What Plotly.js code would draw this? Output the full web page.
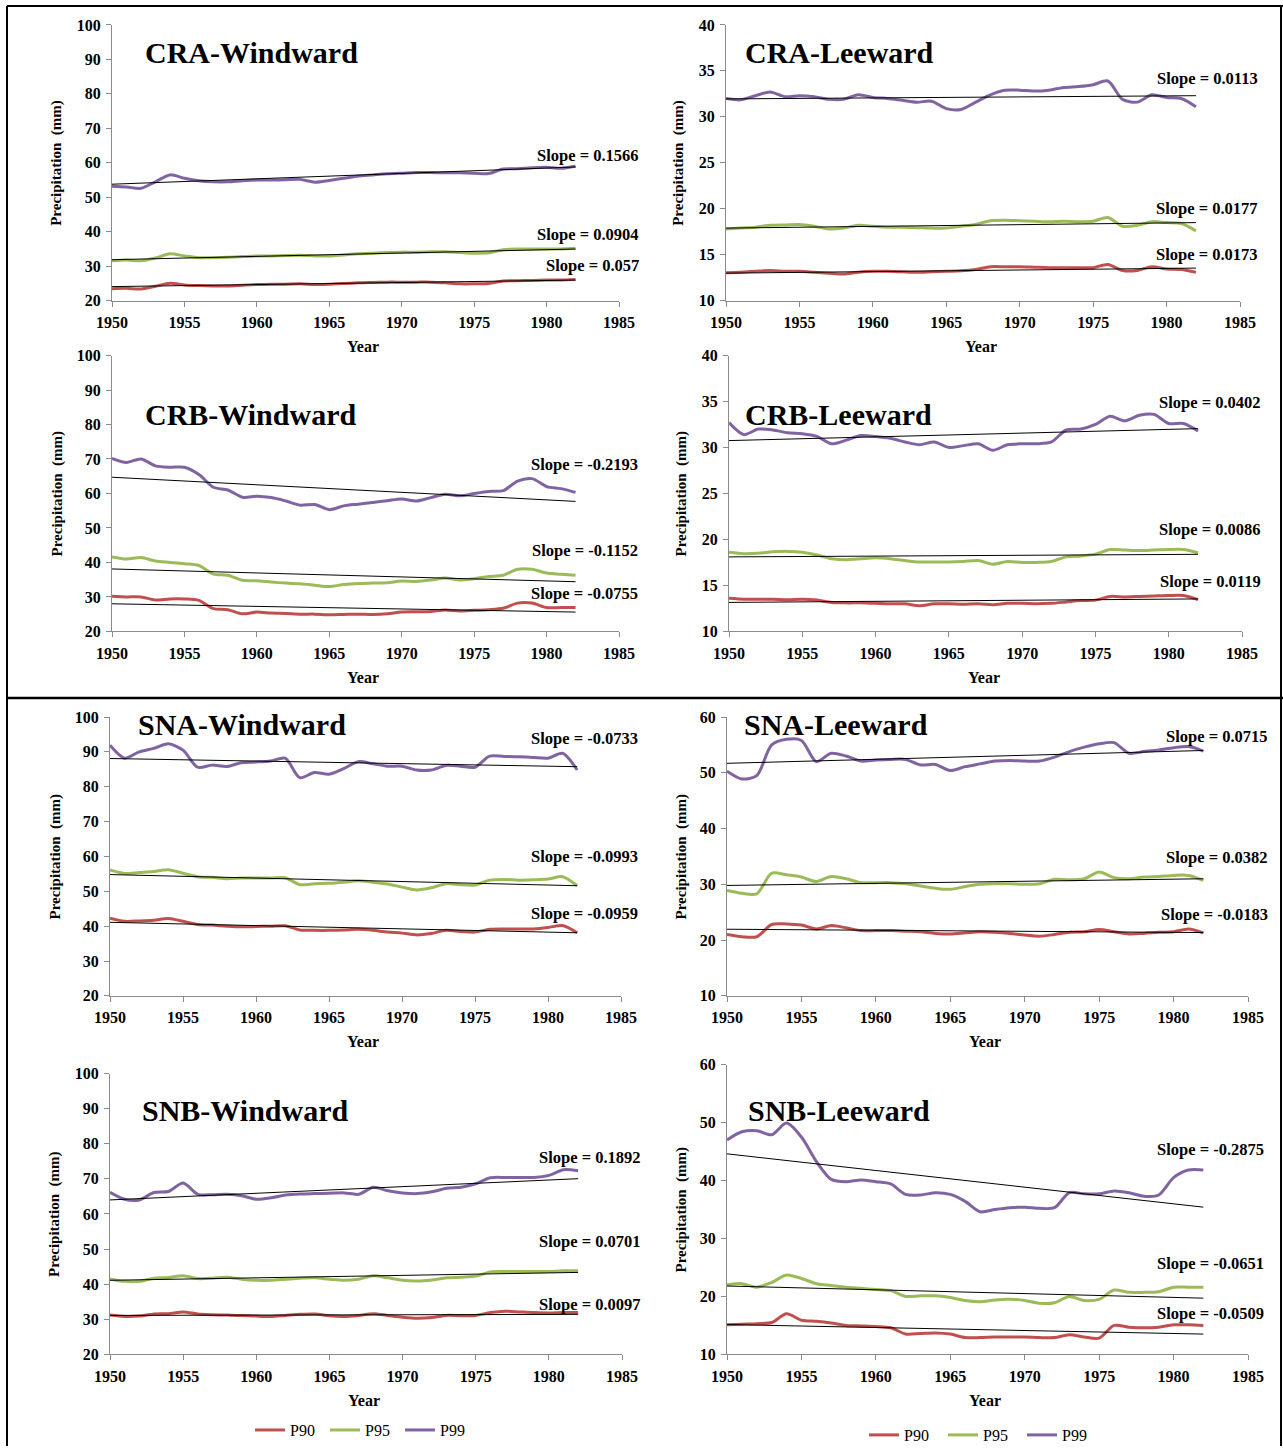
<!DOCTYPE html>
<html>
<head>
<meta charset="utf-8">
<script src="https://cdn.plot.ly/plotly-3.0.1.min.js"></script>
<style>html,body{margin:0;padding:0;background:#fff;}#chart{width:1283px;height:1452px;}</style>
</head>
<body>
<div id="chart"></div>
<script>
// ---------------- DATA ----------------
const years = [1950,1951,1952,1953,1954,1955,1956,1957,1958,1959,1960,1961,1962,1963,1964,1965,1966,1967,1968,1969,1970,1971,1972,1973,1974,1975,1976,1977,1978,1979,1980,1981,1982];
const seriesNames = ["P90", "P95", "P99"];
const panelTitles = ["CRA-Windward","CRA-Leeward","CRB-Windward","CRB-Leeward","SNA-Windward","SNA-Leeward","SNB-Windward","SNB-Leeward"];

// CRA-Windward
const craW_P90 = [23.5,23.6,23.4,24.2,25.1,24.6,24.4,24.3,24.3,24.5,24.7,24.8,24.8,24.9,24.7,24.8,25.0,25.2,25.3,25.4,25.4,25.4,25.4,25.2,24.9,24.9,25.0,25.7,25.8,25.9,26.0,26.0,26.2];
const craW_P95 = [31.6,31.8,31.6,32.4,33.6,33.0,32.5,32.5,32.6,32.8,33.0,33.0,33.1,33.2,33.0,33.0,33.3,33.6,33.8,34.0,34.1,34.1,34.2,34.2,34.0,33.8,33.9,34.8,35.0,35.0,35.0,35.0,35.2];
const craW_P99 = [53.2,53.0,52.6,54.5,56.5,55.5,54.8,54.5,54.5,54.8,55.0,55.0,55.1,55.2,54.4,54.9,55.5,56.2,56.5,56.8,57.0,57.2,57.2,57.1,57.1,57.0,56.9,58.2,58.3,58.6,58.7,58.4,59.0];
// CRA-Leeward
const craL_P90 = [13.05,13.1,13.2,13.3,13.2,13.2,13.1,13.0,12.9,13.1,13.2,13.2,13.15,13.1,13.15,13.2,13.25,13.4,13.7,13.7,13.7,13.65,13.6,13.6,13.6,13.6,13.95,13.3,13.3,13.7,13.45,13.4,13.1];
const craL_P95 = [17.8,17.9,18.0,18.2,18.25,18.3,18.1,17.8,17.9,18.2,18.1,18.0,18.0,17.95,17.9,17.9,18.1,18.3,18.7,18.75,18.7,18.65,18.6,18.65,18.6,18.65,19.05,18.1,18.2,18.6,18.5,18.4,17.6];
const craL_P99 = [32.0,31.85,32.3,32.7,32.2,32.3,32.2,31.9,31.9,32.4,32.1,32.0,31.8,31.6,31.7,30.9,30.8,31.6,32.4,32.9,32.9,32.8,32.9,33.2,33.3,33.5,33.9,31.9,31.6,32.4,32.1,32.0,31.1];
// CRB-Windward
const crbW_P90 = [30.2,30.0,30.0,29.1,29.4,29.4,29.0,26.6,26.3,25.1,25.6,25.3,25.2,25.0,25.0,24.8,24.9,25.0,24.9,25.1,25.6,25.7,25.8,26.2,25.9,26.1,26.3,26.7,28.2,28.2,26.9,26.9,26.9];
const crbW_P95 = [41.6,41.0,41.4,40.4,40.0,39.6,39.1,36.6,36.3,34.8,34.7,34.3,34.0,33.8,33.4,33.0,33.6,33.9,34.0,34.1,34.6,34.5,34.9,35.5,34.9,35.3,35.9,36.3,38.0,38.0,36.9,36.6,36.3];
const crbW_P99 = [70.2,69.0,70.0,68.0,67.6,67.6,65.5,61.8,61.0,58.9,59.2,58.8,57.8,56.6,56.8,55.3,56.4,56.9,57.4,57.9,58.4,57.8,58.8,59.8,59.3,60.0,60.6,60.8,63.6,64.3,62.0,61.4,60.3];
// CRB-Leeward
const crbL_P90 = [13.6,13.5,13.5,13.5,13.45,13.5,13.4,13.15,13.1,13.1,13.05,13.0,13.0,12.8,13.0,13.0,12.95,13.0,12.9,13.05,13.05,13.0,13.05,13.2,13.35,13.4,13.8,13.75,13.8,13.85,13.9,13.9,13.45];
const crbL_P95 = [18.6,18.45,18.5,18.65,18.7,18.6,18.3,17.9,17.8,17.9,18.0,17.9,17.7,17.55,17.55,17.55,17.6,17.7,17.3,17.6,17.5,17.5,17.6,18.1,18.2,18.4,18.9,18.85,18.8,18.85,18.9,18.9,18.55];
const crbL_P99 = [32.7,31.4,32.0,31.9,31.6,31.5,31.2,30.4,30.8,31.3,31.2,31.0,30.6,30.3,30.6,30.0,30.2,30.4,29.7,30.3,30.4,30.4,30.6,31.9,32.0,32.5,33.4,32.9,33.5,33.6,32.6,32.6,31.8];
// SNA-Windward
const snaW_P90 = [42.3,41.4,41.5,41.7,42.2,41.4,40.5,40.3,40.0,39.8,39.9,40.0,40.1,38.9,38.8,38.8,38.9,39.1,38.8,38.3,38.0,37.5,37.9,38.8,38.5,38.3,39.1,39.2,39.2,39.2,39.6,40.2,38.1];
const snaW_P95 = [56.1,55.1,55.4,55.7,56.2,55.2,54.2,54.0,53.6,53.8,53.8,53.8,53.9,51.9,52.2,52.3,52.6,53.0,52.6,52.1,51.2,50.4,51.0,52.2,51.9,51.8,53.2,53.4,53.2,53.3,53.5,54.2,51.6];
const snaW_P99 = [91.9,88.2,90.0,91.0,92.3,90.5,85.6,86.2,85.8,86.9,87.1,87.4,88.2,82.6,84.1,83.6,85.2,87.2,86.6,85.9,85.9,84.8,84.8,86.1,85.9,85.6,88.8,88.7,88.6,88.4,88.2,89.6,84.8];
// SNA-Leeward
const snaL_P90 = [21.0,20.6,20.6,22.8,22.9,22.7,22.0,22.6,22.2,21.7,21.7,21.7,21.6,21.5,21.2,21.1,21.3,21.5,21.4,21.2,20.9,20.7,21.0,21.4,21.5,21.9,21.5,21.1,21.2,21.4,21.5,22.0,21.3];
const snaL_P95 = [28.9,28.4,28.3,32.0,31.7,31.3,30.5,31.4,31.0,30.3,30.3,30.3,30.1,29.7,29.3,29.1,29.6,30.0,30.1,30.1,30.0,30.1,30.9,30.8,31.0,32.2,31.2,31.0,31.3,31.4,31.6,31.6,30.7];
const snaL_P99 = [50.3,48.9,49.5,55.0,56.0,55.8,52.0,53.5,53.0,52.1,52.3,52.4,52.4,51.4,51.5,50.4,51.1,51.6,52.1,52.2,52.1,52.1,52.8,53.8,54.6,55.2,55.4,53.5,53.8,54.1,54.5,54.7,53.9];
// SNB-Windward
const snbW_P90 = [31.2,30.8,30.9,31.5,31.6,32.1,31.5,31.3,31.2,31.1,30.9,30.8,31.1,31.4,31.5,31.0,30.8,31.1,31.6,31.1,30.6,30.3,30.5,31.1,31.0,31.1,31.9,32.3,32.1,31.9,31.8,31.9,31.9];
const snbW_P95 = [41.5,40.8,40.8,41.7,41.9,42.4,41.6,41.7,42.0,41.4,41.1,41.1,41.4,41.7,41.8,41.4,41.1,41.4,42.4,41.8,41.1,40.9,41.2,41.8,42.0,42.3,43.5,43.6,43.6,43.6,43.6,43.8,43.8];
const snbW_P99 = [66.2,64.2,64.0,66.1,66.4,68.8,65.6,65.5,65.6,65.2,64.2,64.6,65.4,65.7,65.8,65.9,66.0,65.6,67.6,66.6,66.0,65.8,66.3,67.3,67.6,68.6,70.3,70.4,70.4,70.4,71.0,72.6,72.3];
// SNB-Leeward
const snbL_P90 = [15.1,15.2,15.3,15.5,17.0,15.9,15.7,15.4,15.0,14.9,14.8,14.6,13.5,13.6,13.7,13.5,12.9,12.9,13.0,13.0,13.0,12.9,12.9,13.4,13.0,12.8,15.0,14.7,14.6,14.7,15.1,15.1,15.0];
const snbL_P95 = [22.0,22.2,21.6,22.4,23.7,23.1,22.2,21.9,21.6,21.4,21.2,21.0,20.0,20.1,20.1,19.8,19.3,19.1,19.4,19.5,19.3,18.8,18.9,20.0,19.3,19.5,21.1,20.7,20.7,20.8,21.6,21.6,21.6];
const snbL_P99 = [47.0,48.4,48.6,47.9,49.9,47.5,43.3,40.2,39.8,40.1,39.8,39.4,37.6,37.5,37.9,37.6,36.4,34.6,35.0,35.3,35.4,35.2,35.3,37.9,37.7,37.7,38.2,37.9,37.3,37.5,40.5,41.8,41.8];

// Linear trend endpoints [value at 1950, value at 1982] for P90, P95, P99
const trendYears = [1950, 1982];
const craW_trend = [[24.1, 26.0], [31.9, 35.0], [53.8, 58.8]];
const craL_trend = [[13.0, 13.55], [17.9, 18.5], [31.95, 32.3]];
const crbW_trend = [[28.0, 25.6], [38.1, 34.4], [64.7, 57.7]];
const crbL_trend = [[13.15, 13.53], [18.1, 18.38], [30.75, 32.05]];
const snaW_trend = [[41.1, 38.1], [54.8, 51.6], [88.1, 85.75]];
const snaL_trend = [[21.95, 21.35], [29.8, 31.0], [51.7, 54.0]];
const snbW_trend = [[31.1, 31.4], [41.1, 43.35], [64.0, 70.05]];
const snbL_trend = [[15.15, 13.5], [21.8, 19.7], [44.6, 35.4]];

// Slope labels (P90, P95, P99)
const craW_slopes = ["0.057", "0.0904", "0.1566"];
const craL_slopes = ["0.0173", "0.0177", "0.0113"];
const crbW_slopes = ["-0.0755", "-0.1152", "-0.2193"];
const crbL_slopes = ["0.0119", "0.0086", "0.0402"];
const snaW_slopes = ["-0.0959", "-0.0993", "-0.0733"];
const snaL_slopes = ["-0.0183", "0.0382", "0.0715"];
const snbW_slopes = ["0.0097", "0.0701", "0.1892"];
const snbL_slopes = ["-0.0509", "-0.0651", "-0.2875"];

// y axis ranges and tick step per panel
const yRanges = [[20,100],[10,40],[20,100],[10,40],[20,100],[10,60],[20,100],[10,60]];
const yDticks = [10, 5, 10, 5, 10, 10, 10, 10];
const xRange = [1950, 1985];

// ---------------- LAYOUT (pixels) ----------------
const W = 1283, H = 1452;
const FONT = "Liberation Serif, Times New Roman, serif";
const colors = ["#C0504D", "#9BBB59", "#8064A2"];

const panels = [
  {data:[craW_P90,craW_P95,craW_P99], trend:craW_trend, slopes:craW_slopes, px:[112,619], py:[25,302], title:[143,53], slopeX:641, slopeY:[267,235,156], ytitleX:57},
  {data:[craL_P90,craL_P95,craL_P99], trend:craL_trend, slopes:craL_slopes, px:[726,1240], py:[25,302], title:[743,53], slopeX:1260, slopeY:[256,209,79], ytitleX:679},
  {data:[crbW_P90,crbW_P95,crbW_P99], trend:crbW_trend, slopes:crbW_slopes, px:[112,619], py:[357,634], title:[143,416], slopeX:640, slopeY:[596,553,466], ytitleX:57},
  {data:[crbL_P90,crbL_P95,crbL_P99], trend:crbL_trend, slopes:crbL_slopes, px:[729,1242], py:[357,634], title:[743,416], slopeX:1263, slopeY:[584,532,404], ytitleX:681},
  {data:[snaW_P90,snaW_P95,snaW_P99], trend:snaW_trend, slopes:snaW_slopes, px:[110,621], py:[720,1000], title:[136,728], slopeX:640, slopeY:[917,860,742], ytitleX:55},
  {data:[snaL_P90,snaL_P95,snaL_P99], trend:snaL_trend, slopes:snaL_slopes, px:[727,1248], py:[720,1000], title:[742,728], slopeX:1270, slopeY:[918,861,740], ytitleX:681},
  {data:[snbW_P90,snbW_P95,snbW_P99], trend:snbW_trend, slopes:snbW_slopes, px:[110,622], py:[1078,1360], title:[140,1115], slopeX:643, slopeY:[1310,1247,1162], ytitleX:55},
  {data:[snbL_P90,snbL_P95,snbL_P99], trend:snbL_trend, slopes:snbL_slopes, px:[727,1248], py:[1069,1360], title:[746,1115], slopeX:1266, slopeY:[1319,1269,1154], ytitleX:681}
];

const fx = p => p / W;
const fy = p => 1 - p / H;

const traces = [];
const annotations = [];
const layout = {
  width: W, height: H,
  margin: {l:0, r:0, t:0, b:0},
  paper_bgcolor: "#ffffff", plot_bgcolor: "#ffffff",
  font: {family: FONT, color: "#000"},
  showlegend: true,
  annotations: annotations,
  shapes: [
    {type:"line", xref:"paper", yref:"paper", x0:fx(7), x1:fx(1283), y0:fy(6), y1:fy(6), line:{color:"#000", width:2}},
    {type:"line", xref:"paper", yref:"paper", x0:fx(7), x1:fx(7), y0:fy(6), y1:fy(1452), line:{color:"#000", width:2}},
    {type:"line", xref:"paper", yref:"paper", x0:fx(1281), x1:fx(1281), y0:fy(6), y1:fy(1452), line:{color:"#000", width:2}},
    {type:"line", xref:"paper", yref:"paper", x0:fx(7), x1:fx(1283), y0:fy(701), y1:fy(701), line:{color:"#000", width:2.5}}
  ],
  legend: {x: fx(250), y: fy(1436), xanchor:"left", yanchor:"middle", orientation:"h",
           font:{family:FONT, size:16, color:"#000"}, bgcolor:"rgba(0,0,0,0)",
           entrywidth: 30, entrywidthmode:"pixels", itemwidth:30, traceorder:"normal"},
  legend2: {x: fx(864), y: fy(1441), xanchor:"left", yanchor:"middle", orientation:"h",
           font:{family:FONT, size:16, color:"#000"}, bgcolor:"rgba(0,0,0,0)",
           entrywidth: 34, entrywidthmode:"pixels", itemwidth:30, traceorder:"normal"}
};

panels.forEach((p, i) => {
  const n = i + 1;
  const xa = "x" + (n === 1 ? "" : n), ya = "y" + (n === 1 ? "" : n);
  const xKey = "xaxis" + (n === 1 ? "" : n), yKey = "yaxis" + (n === 1 ? "" : n);
  const axisCommon = {showline:true, linecolor:"#8a8a8a", linewidth:1, ticks:"outside", ticklen:5,
                      tickcolor:"#8a8a8a", showgrid:false, zeroline:false, fixedrange:true,
                      tickfont:{family:FONT, size:16, color:"#000", weight:700}};
  layout[xKey] = Object.assign({}, axisCommon, {domain:[fx(p.px[0]), fx(p.px[1])], range:xRange, dtick:5, tick0:1950,
                   anchor:ya, ticklabelstandoff:2});
  layout[yKey] = Object.assign({}, axisCommon, {domain:[fy(p.py[1]), fy(p.py[0])], range:yRanges[i], dtick:yDticks[i],
                   tick0:yRanges[i][0], anchor:xa, ticklabelstandoff:2});

  // series
  for (let s = 0; s < 3; s++) {
    const tr = {x: years, y: p.data[s], xaxis: xa, yaxis: ya, type:"scatter", mode:"lines",
                name: seriesNames[s], line:{color: colors[s], width:3, shape:"spline", smoothing:0.8},
                showlegend: (n === 7 || n === 8), hoverinfo:"skip"};
    if (n === 8) tr.legend = "legend2";
    traces.push(tr);
  }
  // trend lines
  for (let s = 0; s < 3; s++) {
    traces.push({x: trendYears, y: p.trend[s], xaxis: xa, yaxis: ya, type:"scatter", mode:"lines",
                 line:{color:"#000", width:1}, showlegend:false, hoverinfo:"skip"});
    annotations.push({xref:"paper", yref:"paper", x:fx(p.slopeX), y:fy(p.slopeY[s]), xanchor:"right", yanchor:"middle",
                      text:"<b>Slope = " + p.slopes[s] + "</b>", showarrow:false, font:{family:FONT, size:16.5, color:"#000"}});
  }
  // panel title
  annotations.push({xref:"paper", yref:"paper", x:fx(p.title[0]), y:fy(p.title[1]), xanchor:"left", yanchor:"middle",
                    text:"<b>" + panelTitles[i] + "</b>", showarrow:false, font:{family:FONT, size:30, color:"#000"}});
  // axis titles
  annotations.push({xref:"paper", yref:"paper", x:fx((p.px[0]+p.px[1])/2 - 2), y:fy(p.py[1] + 46), xanchor:"center", yanchor:"middle",
                    text:"<b>Year</b>", showarrow:false, font:{family:FONT, size:16, color:"#000"}});
  annotations.push({xref:"paper", yref:"paper", x:fx(p.ytitleX), y:fy((p.py[0]+p.py[1])/2), xanchor:"center", yanchor:"middle",
                    textangle:-90, text:"<b>Precipitation  (mm)</b>", showarrow:false, font:{family:FONT, size:15, color:"#000"}});
});

Plotly.newPlot("chart", traces, layout, {displayModeBar:false, staticPlot:true});
</script>
</body>
</html>
